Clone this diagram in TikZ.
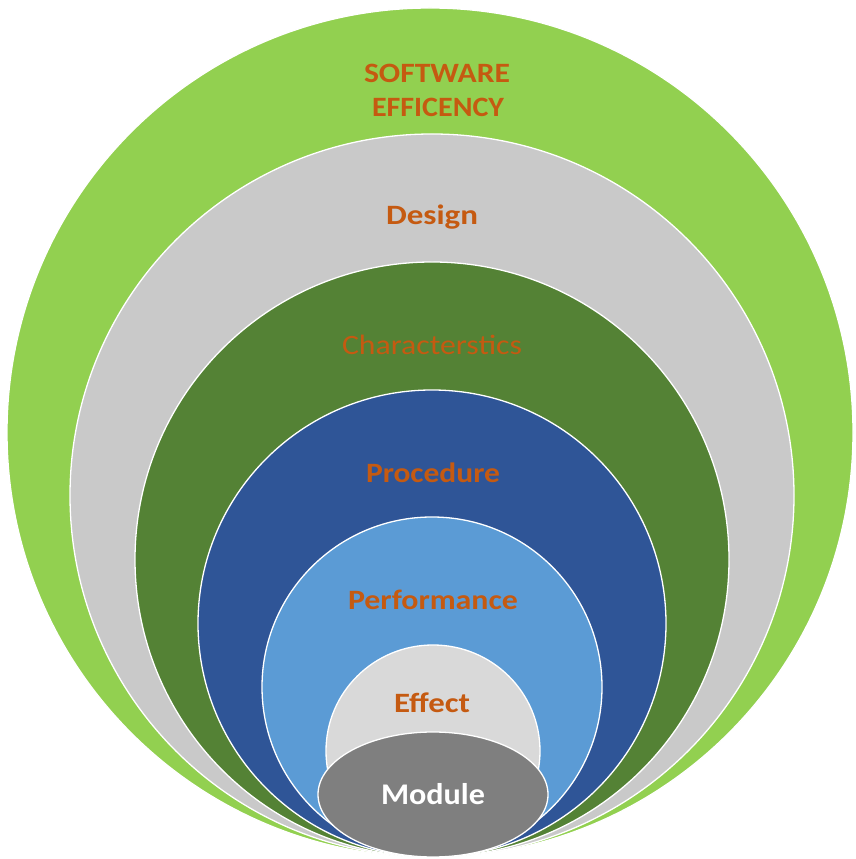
\documentclass[tikz,border=0pt]{standalone}
\usepackage{fontspec}
\setmainfont{Carlito}
\usepackage{graphicx}
\definecolor{cOuter}{HTML}{92D050}
\definecolor{cDesign}{HTML}{C9C9C9}
\definecolor{cChar}{HTML}{548235}
\definecolor{cProc}{HTML}{2F5597}
\definecolor{cPerf}{HTML}{5B9BD5}
\definecolor{cEffect}{HTML}{D9D9D9}
\definecolor{cModule}{HTML}{7F7F7F}
\definecolor{cText}{HTML}{C55A11}
\tikzset{
  ring/.style={draw=white, line width=1.3pt},
  lbl/.style={anchor=base, inner sep=0pt, text=cText, font=\fontsize{28}{30}\selectfont\bfseries},
}
\begin{document}
\begin{tikzpicture}[x=1pt,y=1pt]
\useasboundingbox (0,0) rectangle (855,859);
% y_tikz = 859 - y_img
\path[ring, fill=cOuter] (430,426.5) ellipse [x radius=423, y radius=424.5];
\path[ring, fill=cDesign] (432,363.5) ellipse [x radius=362, y radius=361.5];
\path[ring, fill=cChar] (432,299.5) ellipse [x radius=297, y radius=297.5];
\path[ring, fill=cProc] (432,235.5) ellipse [x radius=234, y radius=233.5];
\path[ring, fill=cPerf] (432,172) ellipse [x radius=170, y radius=170];
\path[ring, fill=cEffect] (433,108) ellipse [x radius=107, y radius=106];
\path[ring, fill=cModule] (433,64.5) ellipse [x radius=115, y radius=62.5];
\node[lbl] (t1) at (437,776) {\resizebox{146pt}{\height}{SOFTWARE}};
\node[lbl] (t2) at (438,742) {\resizebox{132pt}{\height}{EFFICENCY}};
\node[lbl] (t3) at (432,634) {\resizebox{92pt}{\height}{Design}};
\node[lbl, font=\fontsize{28}{30}\selectfont] (t4) at (432,504) {\resizebox{180pt}{\height}{Characterstics}};
\node[lbl] (t5) at (433,376) {\resizebox{134pt}{\height}{Procedure}};
\node[lbl] (t6) at (433,249) {\resizebox{170pt}{\height}{Performance}};
\node[lbl] (t7) at (432,146) {\resizebox{76pt}{\height}{Effect}};
\node[lbl, text=white, font=\fontsize{30}{32}\selectfont\bfseries] (t8) at (433,54) {\resizebox{104pt}{\height}{Module}};
\end{tikzpicture}
\end{document}
